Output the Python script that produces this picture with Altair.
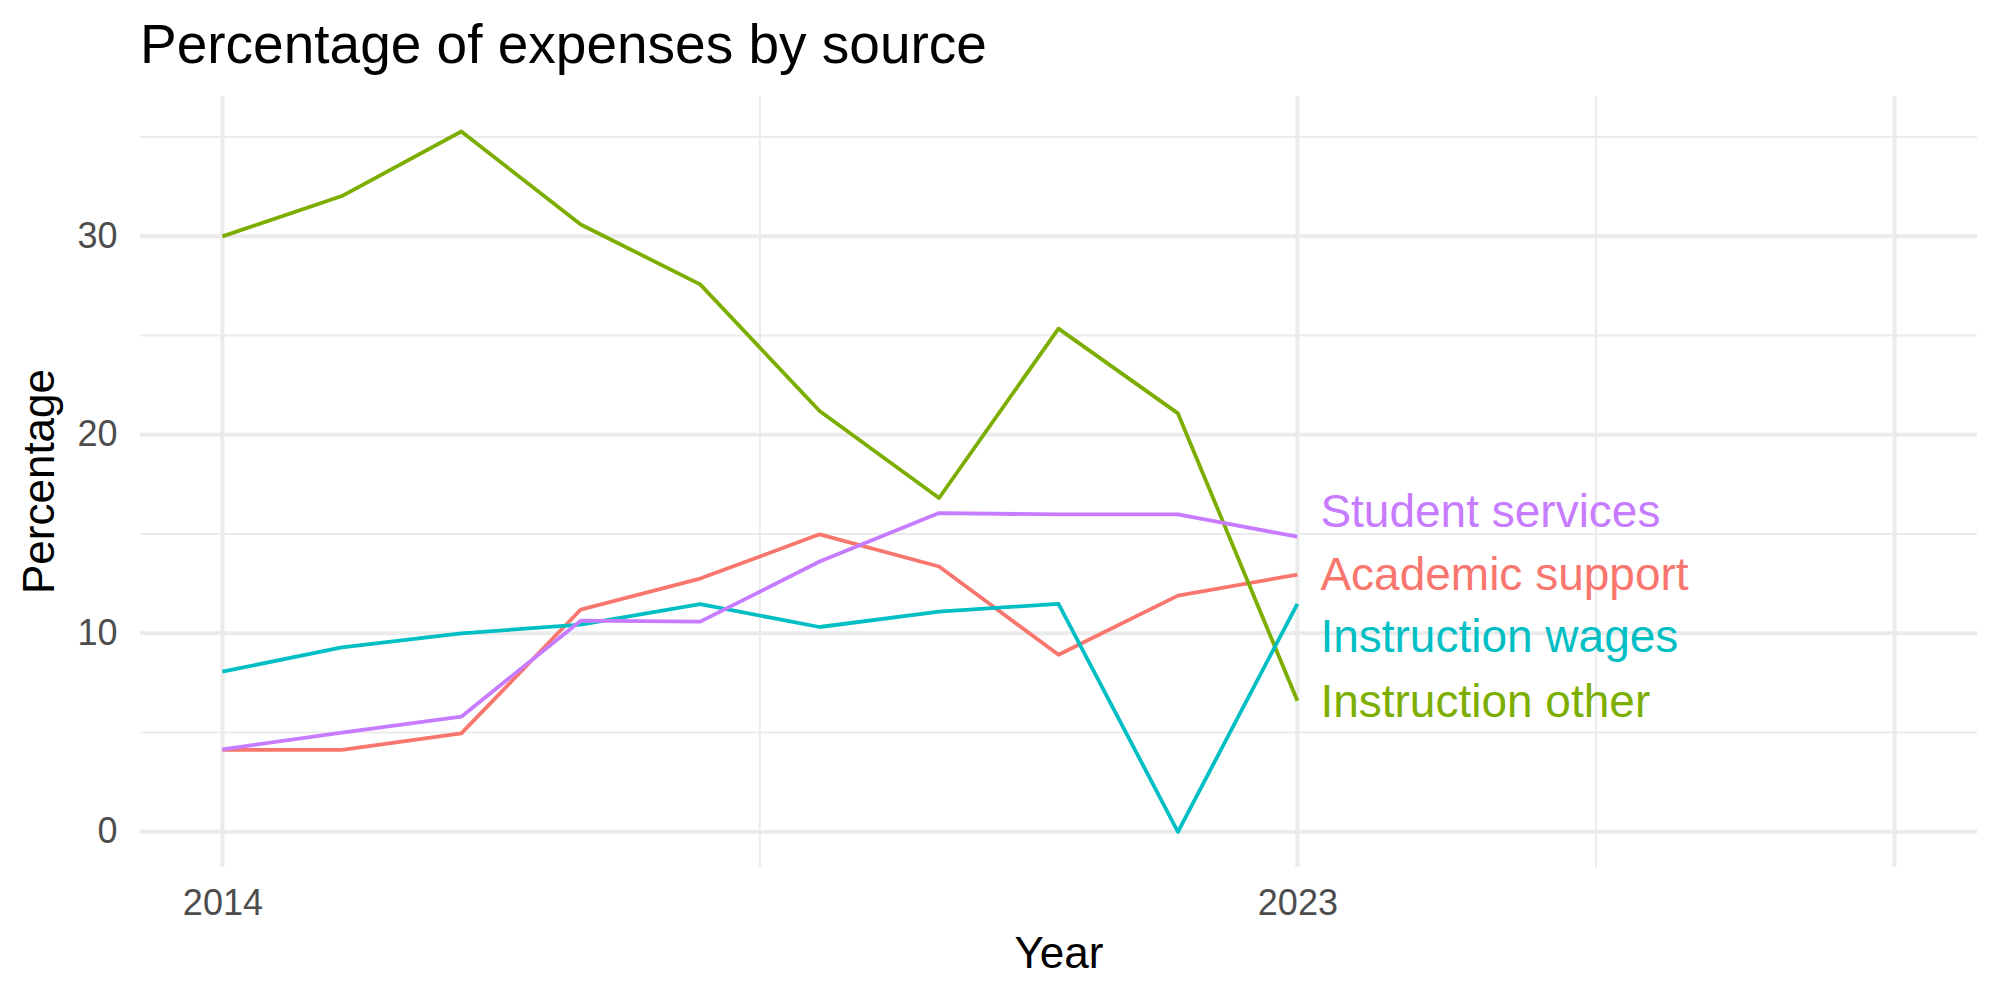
import altair as alt
import pandas as pd

# Share of expenses by source, 2014-2023
years = list(range(2014, 2024))
academic_support = [4.13, 4.13, 4.96, 11.2, 12.76, 14.99, 13.37, 8.92, 11.9, 12.96]
instruction_other = [30.0, 32.03, 35.28, 30.6, 27.58, 21.2, 16.82, 25.35, 21.08, 6.6]
instruction_wages = [8.07, 9.29, 10.0, 10.44, 11.47, 10.32, 11.1, 11.49, 0.0, 11.49]
student_services = [4.16, 5.0, 5.8, 10.64, 10.59, 13.62, 16.06, 15.99, 15.99, 14.87]

sources = ["Academic support", "Instruction other", "Instruction wages", "Student services"]
palette = ["#F8766D", "#7CAE00", "#00BFC4", "#C77CFF"]

# End-of-line label placement (spread apart so they do not overlap)
label_year = [2023, 2023, 2023, 2023]
label_pos = [13.09, 6.70, 9.97, 16.26]

# Grid breaks
x_major = [2014, 2023, 2028]
x_minor = [2018.5, 2025.5]
y_major = [0, 10, 20, 30]
y_minor = [5, 15, 25, 35]

series = {
    "Academic support": academic_support,
    "Instruction other": instruction_other,
    "Instruction wages": instruction_wages,
    "Student services": student_services,
}
rows = []
for name in sources:
    for yr, v in zip(years, series[name]):
        rows.append({"Year": yr, "Percentage": v, "source": name})
df = pd.DataFrame(rows)

labels = pd.DataFrame({"Year": label_year, "Percentage": label_pos, "source": sources})

FONT = "Liberation Sans"
GRID = "#EBEBEB"

x_scale = alt.Scale(domain=[2013.31, 2028.69], nice=False, zero=False)
y_scale = alt.Scale(domain=[-1.77, 37.07], nice=False, zero=False)
color_scale = alt.Scale(domain=sources, range=palette)

x_axis = alt.Axis(
    values=[2014, 2023],
    format="d",
    grid=False,
    domain=False,
    ticks=False,
    tickSize=0,
    labelFontSize=36,
    labelColor="#4D4D4D",
    labelFont=FONT,
    labelPadding=19,
    title="Year",
    titleFont=FONT,
    titleFontSize=44,
    titleFontWeight="normal",
    titleColor="black",
    titleBaseline="alphabetic",
    titleY=100,
)
y_axis = alt.Axis(
    values=y_major,
    grid=False,
    domain=False,
    ticks=False,
    tickSize=0,
    labelFontSize=36,
    labelColor="#4D4D4D",
    labelFont=FONT,
    labelPadding=23,
    title="Percentage",
    titleFont=FONT,
    titleFontSize=44,
    titleFontWeight="normal",
    titleColor="black",
    titleBaseline="alphabetic",
    titleAngle=270,
    titleX=-87,
    titleY=385,
)

xmaj = alt.Chart(pd.DataFrame({"v": x_major})).mark_rule(color=GRID, strokeWidth=4).encode(
    x=alt.X("v:Q", scale=x_scale, axis=x_axis)
)
xmin = alt.Chart(pd.DataFrame({"v": x_minor})).mark_rule(color=GRID, strokeWidth=2).encode(
    x=alt.X("v:Q", scale=x_scale, axis=x_axis)
)
ymaj = alt.Chart(pd.DataFrame({"v": y_major})).mark_rule(color=GRID, strokeWidth=4).encode(
    y=alt.Y("v:Q", scale=y_scale, axis=y_axis)
)
ymin = alt.Chart(pd.DataFrame({"v": y_minor})).mark_rule(color=GRID, strokeWidth=2).encode(
    y=alt.Y("v:Q", scale=y_scale, axis=y_axis)
)

lines = alt.Chart(df).mark_line(strokeWidth=3.8, strokeJoin="round", strokeCap="butt").encode(
    x=alt.X("Year:Q", scale=x_scale, axis=x_axis),
    y=alt.Y("Percentage:Q", scale=y_scale, axis=y_axis),
    color=alt.Color("source:N", scale=color_scale, legend=None),
    detail="source:N",
)

text = alt.Chart(labels).mark_text(
    align="left", baseline="middle", dx=23, dy=4, fontSize=46, font=FONT
).encode(
    x=alt.X("Year:Q", scale=x_scale, axis=x_axis),
    y=alt.Y("Percentage:Q", scale=y_scale, axis=y_axis),
    text="source:N",
    color=alt.Color("source:N", scale=color_scale, legend=None),
)

chart = (
    alt.layer(ymin, xmin, ymaj, xmaj, lines, text)
    .properties(
        width=1837,
        height=771,
        padding={"left": 140, "top": 96, "right": 23, "bottom": 133},
        autosize=alt.AutoSizeParams(type="none"),
        background="white",
        title=alt.TitleParams(
            "Percentage of expenses by source",
            anchor="start",
            frame="group",
            font=FONT,
            fontSize=55,
            fontWeight="normal",
            color="black",
            baseline="alphabetic",
            offset=38,
            dy=62,
        ),
    )
    .configure_view(stroke=None)
)

chart.save("out.html", embed_options={"renderer": "svg", "actions": False})
